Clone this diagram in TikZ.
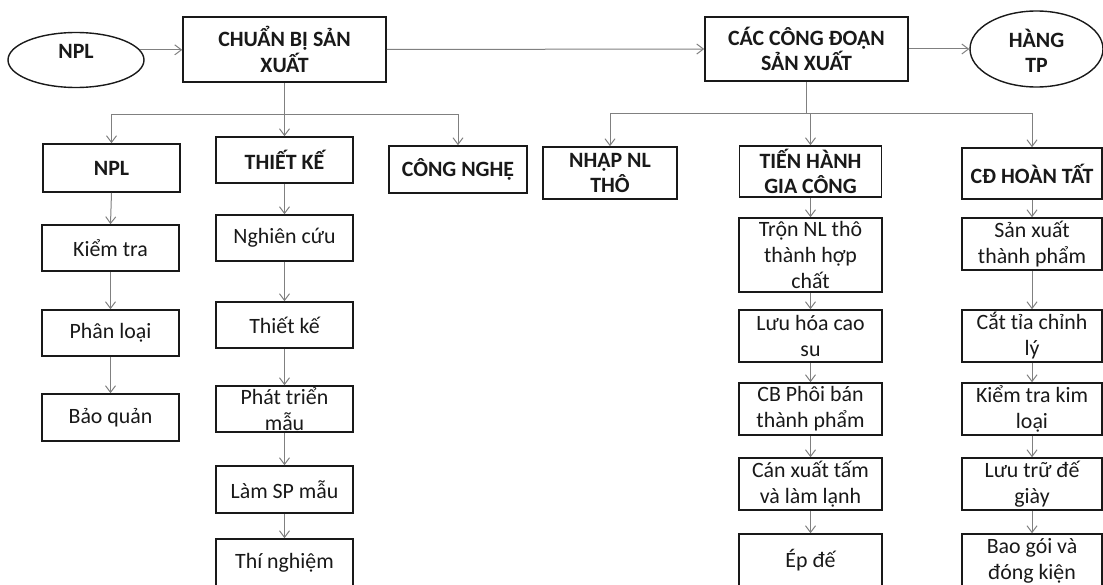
\documentclass[tikz,border=0pt]{standalone}
\usepackage{fontspec}
\setmainfont{Carlito}
\usetikzlibrary{arrows.meta,shapes.geometric}

% box with fixed size and a separate centred text node
\newcommand\boxat[7][txt]{%
  \node[bx, minimum width=#5*0.75pt, minimum height=#6*0.75pt] (#2) at (#3,#4) {};
  \node[#1] (#2-t) at (#2.center) {#7};}
% ellipse with its text node placed at a given point
\newcommand\ellat[8]{%
  \node[ell, minimum width=#4*0.75pt, minimum height=#5*0.75pt] (#1) at (#2,#3) {};
  \node[hd] (#1-t) at (#6,#7) {#8};}

\begin{document}
\begin{tikzpicture}[x=0.75pt, y=-0.75pt,
  bx/.style={draw=black!90, line width=1.15pt, fill=white, inner sep=0pt, rectangle},
  ell/.style={draw=black!90, line width=1.05pt, fill=white, inner sep=0pt, ellipse},
  txt/.style={align=center, inner sep=0pt, text=black!90,
    font=\fontsize{16.4}{19.5}\selectfont},
  hd/.style={txt, font=\fontsize{16.4}{19}\selectfont\bfseries},
  link/.style={draw=black!50, line width=0.75pt},
  arr/.style={link, -{Straight Barb[length=5pt, width=7.5pt, line width=0.75pt]}}]

\useasboundingbox (0,0) rectangle (1103,585);
\clip (0,0) rectangle (1103,585);

% top row
\ellat{npl0}{76}{60}{136}{55}{76}{51}{NPL}
\boxat[hd]{prep}{284.5}{49.5}{203}{65}{CHUẨN BỊ SẢN\\XUẤT}
\boxat[hd]{stage}{806.5}{49}{203}{64}{CÁC CÔNG ĐOẠN\\SẢN XUẤT}
\ellat{tp}{1036.5}{49}{133}{76}{1036.5}{51}{HÀNG\\TP}

% second row
\boxat[hd]{nplH}{111.5}{168}{137}{48}{NPL}
\boxat[hd]{tkH}{284.5}{160}{137}{46}{THIẾT KẾ}
\boxat[hd]{cnH}{458}{169.5}{138}{47}{CÔNG NGHỆ}
\boxat[hd]{nhapH}{610}{173}{134}{52}{NHẬP NL\\THÔ}
\boxat[hd]{thH}{810.5}{171.5}{142}{51}{TIẾN HÀNH\\GIA CÔNG}
\boxat[hd]{cdH}{1032}{173.5}{140}{51}{CĐ HOÀN TẤT}

% materials column
\boxat{k1}{110.5}{248}{137}{46}{Kiểm tra}
\boxat{k2}{110.5}{333}{137}{46}{Phân loại}
\boxat{k3}{110.5}{417.5}{137}{47}{Bảo quản}

% design column
\boxat{t1}{284.5}{238}{137}{46}{Nghiên cứu}
\boxat{t2}{284.5}{325}{137}{46}{Thiết kế}
\boxat{t3}{284.5}{409}{137}{46}{Phát triển\\mẫu}
\boxat{t4}{284.5}{489.5}{137}{47}{Làm SP mẫu}
\boxat{t5}{284.5}{563}{137}{48}{Thí nghiệm}

% processing column
\boxat{g1}{810.5}{255}{143}{74}{Trộn NL thô\\thành hợp\\chất}
\boxat{g2}{810.5}{336}{143}{52}{Lưu hóa cao\\su}
\boxat{g3}{810.5}{409}{143}{52}{CB Phôi bán\\thành phẩm}
\boxat{g4}{810.5}{484}{143}{52}{Cán xuất tấm\\và làm lạnh}
\boxat{g5}{810.5}{560}{143}{52}{Ép đế}

% finishing column
\boxat{c1}{1032}{244}{140}{52}{Sản xuất\\thành phẩm}
\boxat{c2}{1032}{336}{140}{52}{Cắt tỉa chỉnh\\lý}
\boxat{c3}{1032}{409}{140}{52}{Kiểm tra kim\\loại}
\boxat{c4}{1032}{484}{140}{52}{Lưu trữ đế\\giày}
\boxat{c5}{1032}{561}{140}{54}{Bao gói và\\đóng kiện}

% main flow
\draw[arr] (npl0.9) -- (npl0.9 -| prep.west);
\draw[arr] (prep.east) -- (stage.west);
\draw[arr] (stage.east) -- (tp.west);

% branches of the preparation stage
\coordinate (lbar) at (284.5,114);
\draw[arr] (prep.south) -- (tkH.north);
\draw[arr] (lbar) -| (nplH.north);
\draw[arr] (lbar) -| (cnH.north);

% branches of the production stages
\coordinate (rbar) at (806.5,113);
\draw[link] (stage.south) -- (rbar);
\draw[arr] (rbar) -| (nhapH.north);
\draw[arr] (rbar) -| (thH.north);
\draw[arr] (rbar) -| (cdH.north);

% column chains
\foreach \a/\b in {nplH/k1, k1/k2, k2/k3,
                   tkH/t1, t1/t2, t2/t3, t3/t4, t4/t5,
                   thH/g1, g1/g2, g2/g3, g3/g4, g4/g5,
                   cdH/c1, c1/c2, c2/c3, c3/c4, c4/c5}
  \draw[arr] (\a.south) -- (\b.north);

\end{tikzpicture}
\end{document}
